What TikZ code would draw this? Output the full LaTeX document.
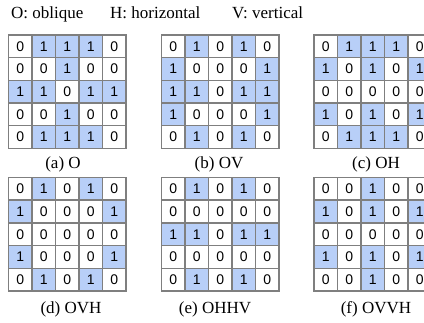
\documentclass[tikz,border=0pt]{standalone}
\usepackage{fontspec}
\setmainfont{Liberation Serif}
\newfontfamily\digitfont{Liberation Sans}
\definecolor{cellblue}{HTML}{B8CFF8}
\definecolor{cellline}{HTML}{7F7F7F}
\tikzset{
  cell/.style={draw=cellline, line width=1.4pt, minimum width=23.5pt,
    minimum height=22.7pt, inner sep=0pt, font=\digitfont\fontsize{14}{14}\selectfont},
  bit0/.style={fill=white},
  bit1/.style={fill=cellblue},
  caption/.style={font=\fontsize{17}{17}\selectfont, anchor=base, inner sep=0pt},
  legend/.style={font=\fontsize{17}{17}\selectfont, anchor=base west, inner sep=0pt}
}
% \bitgrid{name}{left x}{top y}{rows}
\newcommand\bitgrid[4]{%
  \foreach \row [count=\r] in {#4} {
    \foreach \b [count=\c] in \row {
      \node[cell, bit\b] (#1-\r-\c) at ({#2+(\c-0.5)*23.5}, {#3+(\r-0.5)*22.7}) {\b};
    }
  }
}
\begin{document}
\begin{tikzpicture}[x=1pt, y=-1pt]
  \useasboundingbox (0,0) rectangle (424,323);
  \clip (0,0) rectangle (424,323);

  % legend line
  \node[legend] (lo) at (11,19) {O: oblique};
  \node[legend] (lh) at (110,19) {H: horizontal};
  \node[legend] (lv) at (232,19) {V: vertical};

  % top row
  \bitgrid{ga}{8.5}{35}{{0,1,1,1,0},{0,0,1,0,0},{1,1,0,1,1},{0,0,1,0,0},{0,1,1,1,0}}
  \bitgrid{gb}{161.5}{35}{{0,1,0,1,0},{1,0,0,0,1},{1,1,0,1,1},{1,0,0,0,1},{0,1,0,1,0}}
  \bitgrid{gc}{314}{35}{{0,1,1,1,0},{1,0,1,0,1},{0,0,0,0,0},{1,0,1,0,1},{0,1,1,1,0}}

  % bottom row
  \bitgrid{gd}{8.5}{177.5}{{0,1,0,1,0},{1,0,0,0,1},{0,0,0,0,0},{1,0,0,0,1},{0,1,0,1,0}}
  \bitgrid{ge}{161.5}{177.5}{{0,1,0,1,0},{0,0,0,0,0},{1,1,0,1,1},{0,0,0,0,0},{0,1,0,1,0}}
  \bitgrid{gf}{314}{177.5}{{0,0,1,0,0},{1,0,1,0,1},{0,0,0,0,0},{1,0,1,0,1},{0,0,1,0,0}}

  % captions
  \node[caption] (ca) at (63,169) {(a) O};
  \node[caption] (cb) at (219,169) {(b) OV};
  \node[caption] (cc) at (376,169) {(c) OH};
  \node[caption] (cd) at (71,314) {(d) OVH};
  \node[caption] (ce) at (215,314) {(e) OHHV};
  \node[caption] (cf) at (376,314) {(f) OVVH};
\end{tikzpicture}
\end{document}
